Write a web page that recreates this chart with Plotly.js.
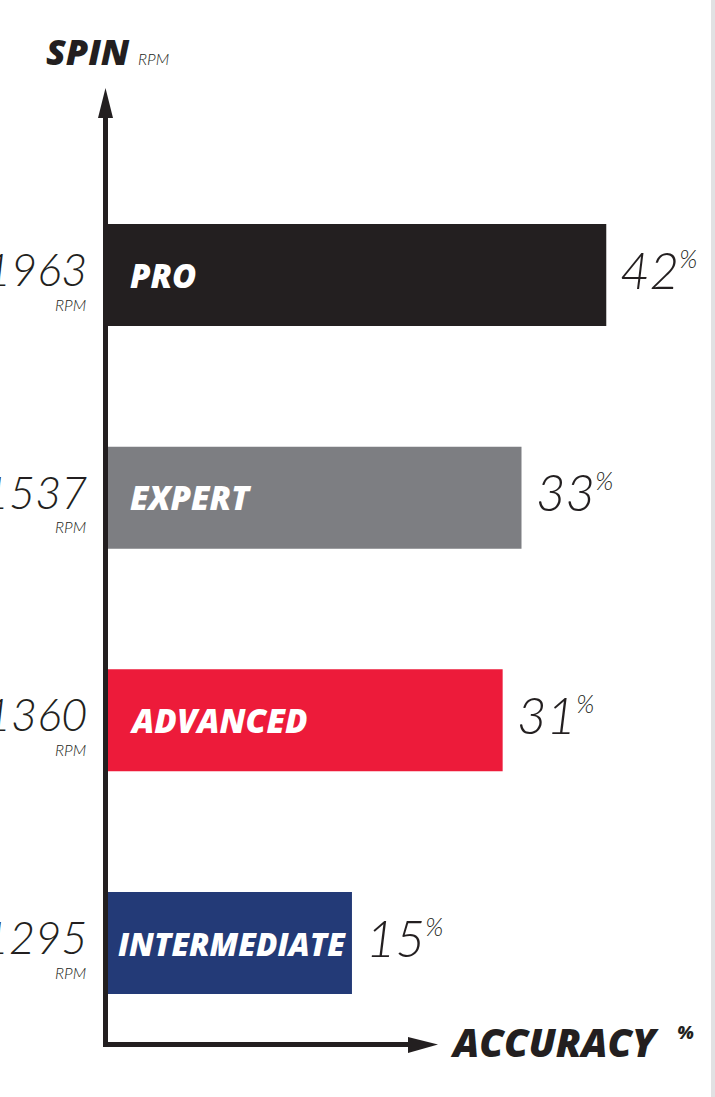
<!DOCTYPE html>
<html>
<head>
<meta charset="utf-8">
<script src="https://cdn.plot.ly/plotly-3.0.1.min.js"></script>
<style>
  html, body { margin: 0; padding: 0; background: #ffffff; }
  #chart { width: 715px; height: 1097px; }
</style>
</head>
<body>
<div id="chart"></div>
<script>
// ---- data ----
const levels = ['PRO', 'EXPERT', 'ADVANCED', 'INTERMEDIATE'];
const spinRpm = [1963, 1537, 1360, 1295];
const accuracyPct = [42, 33, 31, 15];
const spinUnit = 'RPM';
const yTitle = 'SPIN';
const xTitle = 'ACCURACY';
const xUnit = '%';

// ---- styles / scale ----
const barColors = ['#231f20', '#7d7e82', '#ed1b3a', '#233a77'];
const ink = '#231f20';
const W = 715, H = 1097;
const M = { l: 108, r: 7, t: 100, b: 40 };
const xAxisStart = -10.9;     // accuracy value where the drawn axis sits
const xAxisEnd = 52.8;
const heavy = { family: '"Open Sans", Lato, "Liberation Sans", sans-serif', weight: 800, style: 'italic' };
const light = { family: 'Lato, "Open Sans", "Liberation Sans", sans-serif', weight: 300, style: 'italic' };

// pixel -> paper helpers for decoration
const pw = W - M.l - M.r, ph = H - M.t - M.b;
const px = x => (x - M.l) / pw;
const py = y => (H - M.b - y) / ph;

const trace = {
  type: 'bar',
  orientation: 'h',
  base: xAxisStart,
  x: accuracyPct.map(v => v - xAxisStart),
  y: levels,
  marker: { color: barColors, line: { width: 0 } },
  hoverinfo: 'skip'
};

const annotations = [];
levels.forEach((lv, i) => {
  const long = lv.length > 10;
  annotations.push({
    xref: 'paper', yref: 'y', x: px(89), y: lv, xanchor: 'right', yanchor: 'middle',
    yshift: 6, showarrow: false, text: String(spinRpm[i]),
    font: Object.assign({ size: 45, color: ink }, light)
  });
  annotations.push({
    xref: 'paper', yref: 'y', x: px(88), y: lv, xanchor: 'right', yanchor: 'middle',
    yshift: -29, showarrow: false, text: spinUnit,
    font: Object.assign({ size: 16, color: ink }, light)
  });
  annotations.push({
    xref: 'x', yref: 'y', x: xAxisStart, y: lv, xanchor: 'left', yanchor: 'middle',
    xshift: long ? 8 : 20, yshift: 0, showarrow: false, text: lv,
    font: Object.assign({ size: long ? 31.5 : 33, color: '#ffffff' }, heavy)
  });
  annotations.push({
    xref: 'x', yref: 'y', x: accuracyPct[i], y: lv, xanchor: 'left', yanchor: 'middle',
    xshift: 12, yshift: 6, showarrow: false,
    text: accuracyPct[i] + '<sup><span style="font-size:25px">%</span></sup>',
    font: Object.assign({ size: 51, color: ink }, light)
  });
});
annotations.push(
  { xref: 'paper', yref: 'paper', x: px(44), y: py(52), xanchor: 'left', yanchor: 'middle', showarrow: false,
    text: yTitle, font: Object.assign({ size: 36, color: ink }, heavy) },
  { xref: 'paper', yref: 'paper', x: px(136), y: py(59), xanchor: 'left', yanchor: 'middle', showarrow: false,
    text: spinUnit, font: Object.assign({ size: 16, color: ink }, light) },
  { xref: 'paper', yref: 'paper', x: px(448), y: py(1041), xanchor: 'left', yanchor: 'middle', showarrow: false,
    text: xTitle, font: Object.assign({ size: 39, color: ink }, heavy) },
  { xref: 'paper', yref: 'paper', x: px(675), y: py(1032), xanchor: 'left', yanchor: 'middle', showarrow: false,
    text: xUnit, font: Object.assign({ size: 18, color: ink }, heavy) }
);

const P = (x, y) => px(x) + ',' + py(y);
const shapes = [
  // y axis line
  { type: 'rect', xref: 'paper', yref: 'paper', x0: px(103), x1: px(108), y0: py(1047), y1: py(116),
    fillcolor: ink, line: { width: 0 }, layer: 'above' },
  // x axis line
  { type: 'rect', xref: 'paper', yref: 'paper', x0: px(103), x1: px(410), y0: py(1047), y1: py(1042),
    fillcolor: ink, line: { width: 0 }, layer: 'above' },
  // arrow heads
  { type: 'path', xref: 'paper', yref: 'paper', path: 'M' + P(98, 118) + 'L' + P(113, 118) + 'L' + P(105.5, 88) + 'Z',
    fillcolor: ink, line: { width: 0 } },
  { type: 'path', xref: 'paper', yref: 'paper', path: 'M' + P(408, 1037) + 'L' + P(408, 1053) + 'L' + P(438, 1044.5) + 'Z',
    fillcolor: ink, line: { width: 0 } },
  // right edge strip
  { type: 'rect', xref: 'paper', yref: 'paper', x0: px(711), x1: px(716), y0: py(1097), y1: py(0),
    fillcolor: '#e1e1e3', line: { width: 0 } }
];

const catIdxTop = levels.length - 1;
const layout = {
  width: W, height: H,
  margin: M,
  paper_bgcolor: '#ffffff', plot_bgcolor: '#ffffff',
  showlegend: false,
  bargap: 0.542,
  xaxis: { range: [xAxisStart, xAxisEnd], visible: false, fixedrange: true },
  yaxis: {
    type: 'category', categoryorder: 'array', categoryarray: levels.slice().reverse(),
    range: [-0.512, catIdxTop + 0.786], visible: false, fixedrange: true
  },
  annotations: annotations,
  shapes: shapes
};

Plotly.newPlot('chart', [trace], layout, { displayModeBar: false, staticPlot: true });
</script>
</body>
</html>
